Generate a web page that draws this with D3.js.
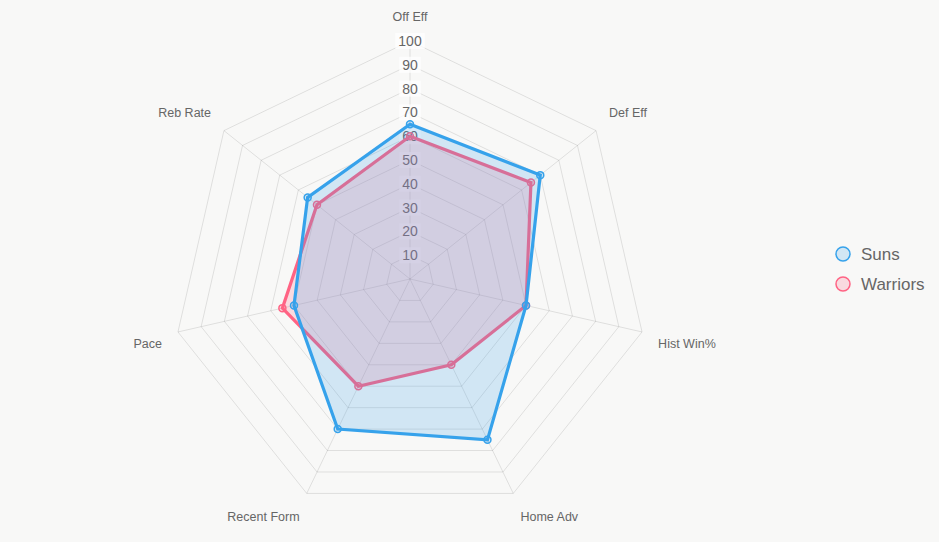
<!DOCTYPE html>
<html>
<head>
<meta charset="utf-8">
<script src="https://cdn.jsdelivr.net/npm/d3@7"></script>
<style>
  html, body { margin: 0; padding: 0; background: #f8f8f7; }
  svg { display: block; font-family: "Liberation Sans", Arial, Helvetica, sans-serif; }
</style>
</head>
<body>
<div id="chart"></div>
<script>
const categories = ["Off Eff", "Def Eff", "Hist Win%", "Home Adv", "Recent Form", "Pace", "Reb Rate"];
const sunsValues = [65, 70, 50, 75, 70, 50, 55];
const warriorsValues = [60, 65, 50, 40, 50, 55, 50];
const tickValues = [10, 20, 30, 40, 50, 60, 70, 80, 90, 100];
const seriesNames = ["Suns", "Warriors"];

document.addEventListener("DOMContentLoaded", () => {
    let width = 939, height = 542,
        cx = 410, cy = 279, radius = 238;

    const colors = {
        Suns: { line: "#36A2EB", fill: "rgba(54,162,235,0.2)" },
        Warriors: { line: "#FF6384", fill: "rgba(255,99,132,0.2)" }
    };

    let svg = d3.select("#chart")
        .append("svg")
        .attr("width", width)
        .attr("height", height);

    let g = svg.append("g")
        .attr("transform", "translate(" + cx + "," + cy + ")");

    let r = d3.scaleLinear().domain([0, 100]).range([0, radius]);
    let n = categories.length;
    const angle = (i) => i * 2 * Math.PI / n;
    const pointAt = (i, dist) => [Math.sin(angle(i)) * dist, -Math.cos(angle(i)) * dist];

    // grid rings
    g.selectAll(".ring")
        .data(tickValues)
        .enter()
        .append("polygon")
        .attr("points", function (t) {
            return d3.range(n).map(i => pointAt(i, r(t)).join(",")).join(" ");
        })
        .attr("fill", "none")
        .attr("stroke", "rgba(0,0,0,0.1)")
        .attr("stroke-width", 1);

    // angle lines
    g.selectAll(".spoke")
        .data(d3.range(n))
        .enter()
        .append("line")
        .attr("x1", 0).attr("y1", 0)
        .attr("x2", i => pointAt(i, r(100))[0])
        .attr("y2", i => pointAt(i, r(100))[1])
        .attr("stroke", "rgba(0,0,0,0.1)")
        .attr("stroke-width", 1);

    // tick labels with backdrop
    let tickG = g.selectAll(".tick")
        .data(tickValues)
        .enter()
        .append("g")
        .attr("transform", t => "translate(0," + (-r(t)) + ")");

    tickG.append("rect")
        .attr("x", t => -(String(t).length * 7.8) / 2 - 3)
        .attr("y", -8)
        .attr("width", t => String(t).length * 7.8 + 6)
        .attr("height", 16)
        .attr("fill", "rgba(255,255,255,0.75)");

    tickG.append("text")
        .attr("text-anchor", "middle")
        .attr("dominant-baseline", "central")
        .attr("font-size", 14)
        .attr("fill", "#666")
        .text(t => t);

    // point labels (Chart.js style placement)
    let labelDist = 254.5;
    g.selectAll(".plabel")
        .data(categories)
        .enter()
        .append("text")
        .attr("x", (d, i) => pointAt(i, labelDist)[0])
        .attr("y", function (d, i) {
            let y = pointAt(i, labelDist)[1];
            let deg = angle(i) * 180 / Math.PI;
            if (deg < 90 || deg > 270) return y - 3.5;
            return y + 12.5;
        })
        .attr("text-anchor", function (d, i) {
            let deg = angle(i) * 180 / Math.PI;
            if (deg === 0 || deg === 180) return "middle";
            return deg < 180 ? "start" : "end";
        })
        .attr("font-size", 12.5)
        .attr("fill", "#666")
        .text(d => d);

    const line = d3.lineRadial()
        .angle((d, i) => angle(i))
        .radius(d => r(d))
        .curve(d3.curveLinearClosed);

    // Warriors underneath, Suns on top (first dataset drawn last)
    const drawSeries = (values, c) => {
        g.append("path")
            .datum(values)
            .attr("d", line)
            .attr("fill", c.fill)
            .attr("stroke", c.line)
            .attr("stroke-width", 3.2)
            .attr("stroke-linejoin", "miter");

        g.selectAll(null)
            .data(values)
            .enter()
            .append("circle")
            .attr("cx", (d, i) => pointAt(i, r(d))[0])
            .attr("cy", (d, i) => pointAt(i, r(d))[1])
            .attr("r", 3.5)
            .attr("fill", c.fill)
            .attr("stroke", c.line)
            .attr("stroke-width", 1.5);
    };
    drawSeries(warriorsValues, colors.Warriors);
    drawSeries(sunsValues, colors.Suns);

    // legend
    let legend = svg.selectAll(".legend")
        .data(seriesNames)
        .enter()
        .append("g")
        .attr("transform", (d, i) => "translate(843," + (254 + i * 30) + ")");

    legend.append("circle")
        .attr("r", 7)
        .attr("fill", d => colors[d].fill)
        .attr("stroke", d => colors[d].line)
        .attr("stroke-width", 1.5);

    legend.append("text")
        .attr("x", 18)
        .attr("dominant-baseline", "central")
        .attr("font-size", 17)
        .attr("fill", "#666")
        .text(d => d);
});
</script>
</body>
</html>
